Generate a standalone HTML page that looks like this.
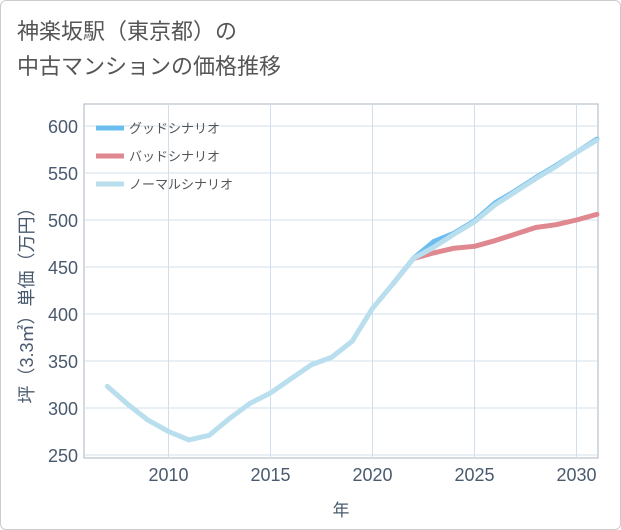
<!DOCTYPE html>
<html><head><meta charset="utf-8"><style>
body{margin:0;background:#fff;}
#wrap{position:relative;width:619px;height:528px;border:1px solid #ccc;border-radius:6px;overflow:hidden;font-family:"Liberation Sans","Noto Sans CJK JP",sans-serif;}
#title{position:absolute;left:16px;top:13px;font-size:22px;line-height:35px;color:#555;}
</style></head><body>
<div id="wrap">
<div id="title">神楽坂駅（東京都）の<br>中古マンションの価格推移</div>
<svg id="chart" width="621" height="530" style="position:absolute;left:0;top:0"></svg>
</div>
<script>
const years=[2007,2008,2009,2010,2011,2012,2013,2014,2015,2016,2017,2018,2019,2020,2021,2022,2023,2024,2025,2026,2027,2028,2029,2030,2031];
const normal=[323,304,287,275,266,271,289,305,316,331,346,354,371,406,432,459,471,485,498,516,530,544,557,572,585];
const goodYears=[2021,2022,2023,2024,2025,2026,2027,2028,2029,2030,2031];
const good=[432,459,477,486,499,518,531,545,558,572,586];
const badYears=[2022,2023,2024,2025,2026,2027,2028,2029,2030,2031];
const bad=[459,465,470,472,478,485,492,495,500,506];
const yTicks=[250,300,350,400,450,500,550,600];
const xTicks=[2010,2015,2020,2025,2030];
const L=83,R=597,T=103,B=457;
const X=v=>371.5+(v-2020)*20.4;
const Y=v=>454-(v-250)*(329/350);
const svg=document.getElementById('chart');
const NS='http://www.w3.org/2000/svg';
function mk(t,a,p){const e=document.createElementNS(NS,t);for(const k in a)e.setAttribute(k,a[k]);(p||svg).appendChild(e);return e;}
const plot=mk('rect',{x:L,y:T,width:R-L,height:B-T,fill:'#fff',stroke:'#aab4c0'});


xTicks.forEach(v=>{const g=mk('line',{x1:X(v),x2:X(v),y1:T,y2:B,stroke:'#d0dfeb','stroke-width':1});

});
yTicks.forEach(v=>{const y=Y(v);const g=mk('line',{x1:L,x2:R,y1:y,y2:y,stroke:'#d0dfeb'});

});
yTicks.forEach(v=>{const t=mk('text',{x:L-6,y:Y(v)+7,'text-anchor':'end','font-size':18,fill:'#4a5a6e'});t.textContent=v;

});
xTicks.forEach(v=>{const t=mk('text',{x:X(v),y:480,'text-anchor':'middle','font-size':18,fill:'#4a5a6e'});t.textContent=v;

});
const xt=mk('text',{x:340,y:515,'text-anchor':'middle','font-size':17,fill:'#4a5a6e'});xt.textContent='年';


const yt=mk('text',{x:0,y:0,transform:'translate(32,300) rotate(-90)','text-anchor':'middle','font-size':18,fill:'#4a5a6e'});yt.textContent='坪（3.3㎡）単価（万円）';


function line(xs,ys,c,name){const p=mk('polyline',{points:xs.map((x,i)=>X(x)+','+Y(ys[i])).join(' '),fill:'none',stroke:c,'stroke-width':5,'stroke-linejoin':'round','stroke-linecap':'round'});

}
line(goodYears,good,'#6bbcef','good-scenario-line');
line(badYears,bad,'#e0888f','bad-scenario-line');
line(years,normal,'#b9dfee','normal-scenario-line');
const leg=[['グッドシナリオ','#6bbcef',127],['バッドシナリオ','#e0888f',155],['ノーマルシナリオ','#b9dfee',183]];
leg.forEach(l=>{const g=mk('g',{});


mk('line',{x1:95,x2:123,y1:l[2],y2:l[2],stroke:l[1],'stroke-width':5},g);
const t=mk('text',{x:128,y:l[2]+5,'font-size':13,fill:'#555'},g);t.textContent=l[0];});
</script>
</body></html>
